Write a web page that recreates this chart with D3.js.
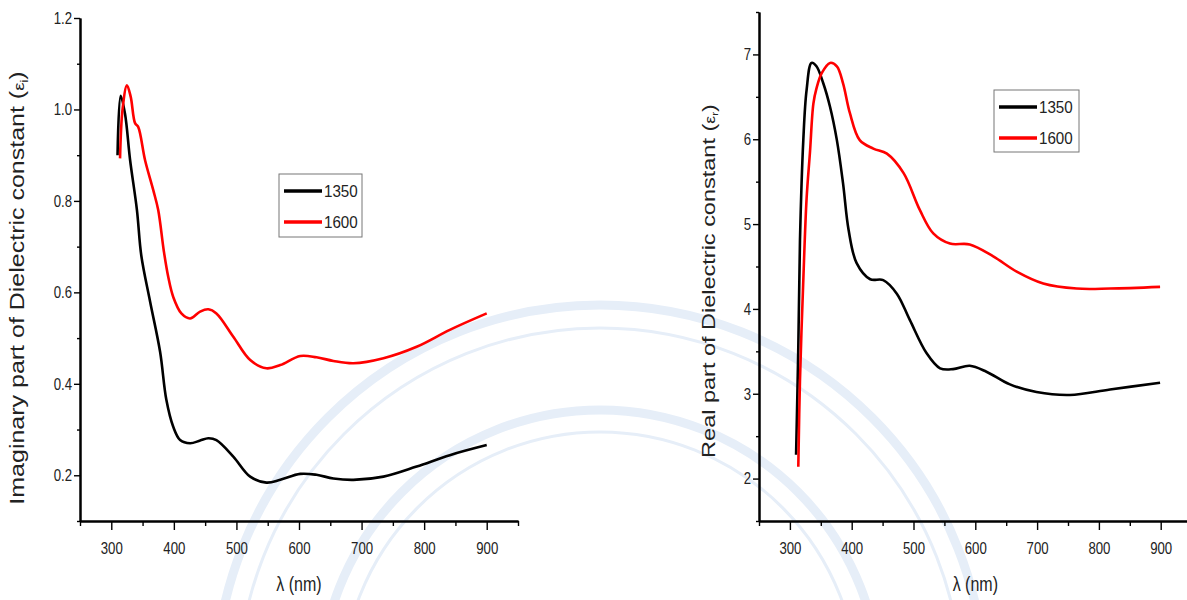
<!DOCTYPE html>
<html>
<head>
<meta charset="utf-8">
<script src="https://cdn.jsdelivr.net/npm/d3@7"></script>
<style>
  body { margin: 0; background: #fff; }
  svg { display: block; font-family: "Liberation Sans", Arial, sans-serif; }
</style>
</head>
<body>
<div id="chart"></div>
<script>
// Values, wavelength in nm
const seriesNames = ["1350", "1600"];
const seriesColors = ["#000000", "#ff0000"];

// Imaginary part (left panel)
const imag1350Wl = [310, 315, 322, 330, 341, 348, 362, 378, 388, 399, 410, 426, 442, 455, 468, 495, 522, 548, 570, 602, 628, 655, 687, 735, 788, 841, 900];
const imag1350   = [0.90, 1.03, 0.99, 0.89, 0.78, 0.68, 0.58, 0.47, 0.365, 0.306, 0.277, 0.270, 0.276, 0.281, 0.277, 0.241, 0.197, 0.184, 0.190, 0.203, 0.201, 0.193, 0.190, 0.197, 0.219, 0.244, 0.266];
const imag1600Wl = [314, 318, 325, 331, 338, 343, 354, 367, 375, 384, 391, 399, 412, 426, 442, 455, 468, 495, 522, 548, 570, 602, 628, 655, 687, 735, 788, 841, 900];
const imag1600   = [0.893, 1.0, 1.053, 1.028, 0.97, 0.962, 0.889, 0.824, 0.78, 0.69, 0.634, 0.59, 0.554, 0.543, 0.558, 0.563, 0.554, 0.503, 0.452, 0.434, 0.441, 0.461, 0.458, 0.45, 0.445, 0.456, 0.481, 0.518, 0.554];

// Real part (right panel)
const real1350Wl = [310, 313.6, 316.3, 321.7, 327, 335, 343, 354, 365, 376, 386, 395, 408, 430, 451, 473, 494, 521, 543, 564, 591, 618, 656, 699, 753, 818, 899];
const real1350   = [2.28, 3.55, 4.81, 5.99, 6.58, 6.90, 6.86, 6.66, 6.38, 5.99, 5.48, 4.93, 4.54, 4.35, 4.34, 4.18, 3.87, 3.48, 3.30, 3.29, 3.33, 3.26, 3.11, 3.02, 2.985, 3.05, 3.13];
const real1600Wl = [313.6, 316.3, 321.7, 327, 332.5, 338, 343, 351.5, 365, 376, 386, 397, 413, 435, 457, 484, 510, 532, 559, 591, 629, 667, 710, 764, 818, 899];
const real1600   = [2.14, 3.16, 4.34, 5.3, 5.85, 6.42, 6.6, 6.78, 6.90, 6.86, 6.66, 6.31, 5.99, 5.89, 5.83, 5.60, 5.17, 4.89, 4.77, 4.76, 4.62, 4.44, 4.30, 4.24, 4.24, 4.26];

// Tick values
const xTicks = [300, 400, 500, 600, 700, 800, 900];
const xMinorTicks = [250, 350, 450, 550, 650, 750, 850, 950];
const imagTicks = [0.2, 0.4, 0.6, 0.8, 1.0, 1.2];
const imagMinorTicks = [0.1, 0.3, 0.5, 0.7, 0.9, 1.1];
const realTicks = [2, 3, 4, 5, 6, 7];
const realMinorTicks = [1.5, 2.5, 3.5, 4.5, 5.5, 6.5, 7.5];

const width = 1187;
const height = 600;

const svg = d3.select("#chart")
    .append("svg")
    .attr("width", width)
    .attr("height", height);

// faint rings of the journal watermark behind both plots
const gMark = svg.append("g").attr("class", "watermark").attr("fill", "none");
const markCx = 600, markCy = 690;
[[385, 9], [362, 3], [280, 9], [258, 3]].forEach(([r, w]) => {
    gMark.append("circle")
        .attr("cx", markCx).attr("cy", markCy).attr("r", r)
        .attr("stroke", "#e6eef8").attr("stroke-width", w);
});

const panels = [
    {
        left: 80, right: 518, top: 18, bottom: 521,
        yDomain: [0.1, 1.2], yTicks: imagTicks, yMinor: imagMinorTicks, yFormat: d3.format(".1f"),
        series: [[imag1350Wl, imag1350], [imag1600Wl, imag1600]],
        title: { x: 24, y: 288, size: 25, main: "Imaginary part of Dielectric constant (", sub: "i" },
        legend: { x: 279, y: 174, w: 83, h: 63 }
    },
    {
        left: 759, right: 1191.6, top: 12, bottom: 521,
        yDomain: [1.5, 7.5], yTicks: realTicks, yMinor: realMinorTicks, yFormat: d3.format("d"),
        series: [[real1350Wl, real1350], [real1600Wl, real1600]],
        title: { x: 715, y: 281, size: 23.5, main: "Real part of Dielectric constant (", sub: "r" },
        legend: { x: 994, y: 90, w: 85, h: 62 }
    }
];

panels.forEach(p => {
    const xScale = d3.scaleLinear().domain([250, 950]).range([p.left, p.right]);
    const yScale = d3.scaleLinear().domain(p.yDomain).range([p.bottom, p.top]);

    const g = svg.append("g").attr("class", "panel");

    // minor ticks first, majors on top
    g.append("g")
        .attr("transform", `translate(0, ${p.bottom})`)
        .call(d3.axisBottom(xScale).tickValues(xMinorTicks).tickSize(5).tickSizeOuter(0).tickFormat(""));
    g.append("g")
        .attr("transform", `translate(0, ${p.bottom})`)
        .call(d3.axisBottom(xScale).tickValues(xTicks).tickSize(9).tickSizeOuter(0).tickPadding(12));

    g.append("g")
        .attr("transform", `translate(${p.left}, 0)`)
        .call(d3.axisLeft(yScale).tickValues(p.yMinor).tickSize(3).tickSizeOuter(0).tickFormat(""));
    g.append("g")
        .attr("transform", `translate(${p.left}, 0)`)
        .call(d3.axisLeft(yScale).tickValues(p.yTicks).tickSize(6).tickSizeOuter(0).tickPadding(4).tickFormat(p.yFormat));

    g.selectAll(".domain").attr("stroke", "#000").attr("stroke-width", 2);
    g.selectAll(".tick line").attr("stroke", "#000").attr("stroke-width", 1.4);
    g.selectAll(".tick text")
        .attr("fill", "#222")
        .attr("font-size", 16.5)
        .attr("font-family", "Liberation Sans, Arial, sans-serif")
        .attr("transform", "scale(0.8,1)");

    // x axis title
    g.append("text")
        .attr("transform", `translate(${(p.left + p.right) / 2}, 591) scale(0.8,1)`)
        .attr("text-anchor", "middle")
        .attr("font-size", 20)
        .attr("fill", "#222")
        .text("\u03bb (nm)");

    // y axis title, rotated
    const t = g.append("text")
        .attr("transform", `translate(${p.title.x}, ${p.title.y}) rotate(-90) scale(1,0.8)`)
        .attr("text-anchor", "middle")
        .attr("font-size", p.title.size)
        .attr("fill", "#222");
    t.append("tspan").text(p.title.main);
    t.append("tspan").attr("font-size", "0.75em").text("\u03b5");
    t.append("tspan").attr("font-size", "0.5em").attr("dy", "0.35em").text(p.title.sub);
    t.append("tspan").attr("dy", "-0.17em").text(")");

    // curves
    const line = d3.line()
        .x(d => xScale(d[0]))
        .y(d => yScale(d[1]))
        .curve(d3.curveCatmullRom.alpha(0.5));

    g.append("g").attr("class", "lines")
        .selectAll("path")
        .data(p.series)
        .join("path")
        .attr("fill", "none")
        .attr("stroke", (d, i) => seriesColors[i])
        .attr("stroke-width", 2.6)
        .attr("stroke-linejoin", "round")
        .attr("d", d => line(d3.zip(d[0], d[1])));

    // legend
    const lg = g.append("g").attr("transform", `translate(${p.legend.x}, ${p.legend.y})`);
    lg.append("rect")
        .attr("width", p.legend.w).attr("height", p.legend.h)
        .attr("fill", "#fff").attr("stroke", "#777").attr("stroke-width", 1);
    seriesNames.forEach((name, i) => {
        const yy = 17 + i * 31;
        lg.append("line")
            .attr("x1", 5).attr("x2", 43).attr("y1", yy).attr("y2", yy)
            .attr("stroke", seriesColors[i]).attr("stroke-width", 3.5);
        lg.append("text")
            .attr("transform", `translate(45, ${yy + 6}) scale(0.92,1)`)
            .attr("font-size", 16.5)
            .attr("fill", "#222")
            .text(name);
    });
});
</script>
</body>
</html>
